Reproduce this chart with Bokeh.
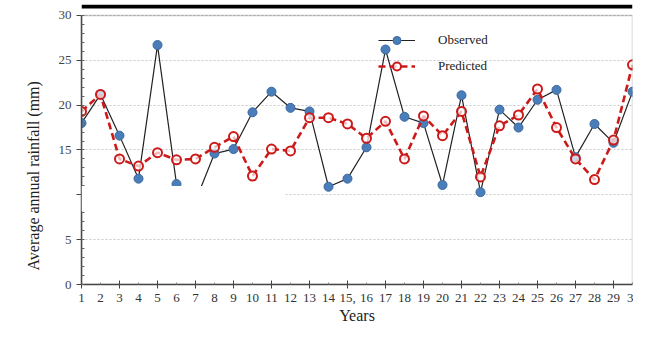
from bokeh.plotting import figure
from bokeh.models import FixedTicker, BoxAnnotation, Title, Legend, LegendItem
from bokeh.embed import file_html
from bokeh.resources import INLINE

years = list(range(1, 31))
observed = [18.0, 21.2, 16.6, 11.8, 26.7, 11.2, 9.3, 14.6, 15.1, 19.2,
            21.5, 19.7, 19.3, 10.9, 11.8, 15.3, 26.2, 18.7, 18.0, 11.1,
            21.1, 10.3, 19.5, 17.5, 20.6, 21.7, 14.2, 17.9, 15.8, 21.5]
predicted = [19.3, 21.2, 14.0, 13.2, 14.7, 13.9, 14.0, 15.3, 16.5, 12.1,
             15.1, 14.9, 18.6, 18.6, 17.9, 16.3, 18.2, 14.0, 18.8, 16.6,
             19.3, 12.0, 17.7, 18.9, 21.8, 17.5, 14.0, 11.7, 16.1, 24.5]
y_ticks = [0, 5, 10, 15, 20, 25, 30]
y_label_overrides = {10: ""}          # hidden by the white patch in the source image
x_label_overrides = {15: "15,", 30: "3"}

SERIF = "Liberation Serif"
Y_MAX = 30
Y_TOP = 31.222   # extra headroom above the chart box holds the thick page rule

p = figure(width=633, height=326, x_range=(1, 30), y_range=(0, Y_TOP),
           output_backend="svg", toolbar_location=None,
           min_border_left=81, min_border_right=1, min_border_top=4, min_border_bottom=41)
p.background_fill_color = "white"
p.border_fill_color = "white"
p.outline_line_color = None

p.xgrid.visible = False
p.ygrid.grid_line_color = "#c8c8c8"
p.ygrid.grid_line_dash = "2 2"
p.ygrid.grid_line_width = 1

# chart box (top and right border)
box = BoxAnnotation(left=1, right=30, bottom=0, top=Y_MAX, fill_alpha=0,
                    line_color="#555555", line_width=1.5, level="guide")
p.add_layout(box)

# y axis
ya = p.yaxis[0]
ya.ticker = FixedTicker(ticks=y_ticks, minor_ticks=list(range(0, 31)))
ya.bounds = (0, Y_MAX)
ya.major_label_overrides = y_label_overrides
ya.axis_line_color = "#444444"
ya.axis_line_width = 1.5
ya.major_tick_in = 0
ya.major_tick_out = 5
ya.minor_tick_in = 3
ya.minor_tick_out = 0
ya.major_tick_line_color = "#444444"
ya.minor_tick_line_color = "#666666"
ya.major_label_text_font = SERIF
ya.major_label_text_font_size = "13px"
ya.major_label_text_color = "#444444"
ya.major_label_standoff = 5

# x axis
xa = p.xaxis[0]
xa.ticker = FixedTicker(ticks=years, minor_ticks=years[::2])
xa.major_label_overrides = x_label_overrides
xa.axis_line_color = "#444444"
xa.axis_line_width = 1.5
xa.major_tick_in = 2
xa.major_tick_out = 0
xa.minor_tick_in = 4
xa.minor_tick_out = 4
xa.major_tick_line_color = "#888888"
xa.minor_tick_line_color = "#444444"
xa.major_label_text_font = SERIF
xa.major_label_text_font_size = "13px"
xa.major_label_text_color = "#333333"
xa.major_label_standoff = 5
xa.axis_label = "Years"
xa.axis_label_text_font = SERIF
xa.axis_label_text_font_size = "16px"
xa.axis_label_text_font_style = "normal"
xa.axis_label_text_color = "#222222"
xa.axis_label_standoff = 2

ytitle = Title(text="Average annual rainfall (mm)", align="left", offset=14,
               text_font=SERIF, text_font_size="16px", text_font_style="normal",
               text_color="#222222", standoff=27)
p.add_layout(ytitle, "left")

obs_line = p.line(years, observed, line_color="#222222", line_width=1.2)
obs_pts = p.scatter(years, observed, size=9, fill_color="#4a7ebb", line_color="#3b679c", line_width=1)
pred_line = p.line(years, predicted, line_color="#cc1a1a", line_width=2.6, line_dash="7 4")
pred_pts = p.scatter(years, predicted, size=9, fill_color="white", fill_alpha=0.7,
                     line_color="#cc1a1a", line_width=2)

legend = Legend(items=[LegendItem(label="Observed", renderers=[obs_line, obs_pts]),
                       LegendItem(label="Predicted", renderers=[pred_line, pred_pts])],
                location=(297, 208), glyph_width=37, glyph_height=20, spacing=6,
                label_standoff=23, padding=0, margin=0,
                border_line_color=None, background_fill_alpha=0,
                label_text_font=SERIF, label_text_font_size="13px", label_text_color="#222222")
p.add_layout(legend, "center")

# white patch that hides part of the chart, as in the source image
patch = BoxAnnotation(left=1, right=11.72, top=10.98, bottom=8.15,
                      fill_color="white", fill_alpha=1, line_color=None, level="overlay")
p.add_layout(patch)

# thick black rule at the very top
rule = BoxAnnotation(bottom=30.778, fill_color="black", fill_alpha=1, line_color=None, level="overlay")
p.add_layout(rule)

open("out.html", "w").write(file_html(p, INLINE))
